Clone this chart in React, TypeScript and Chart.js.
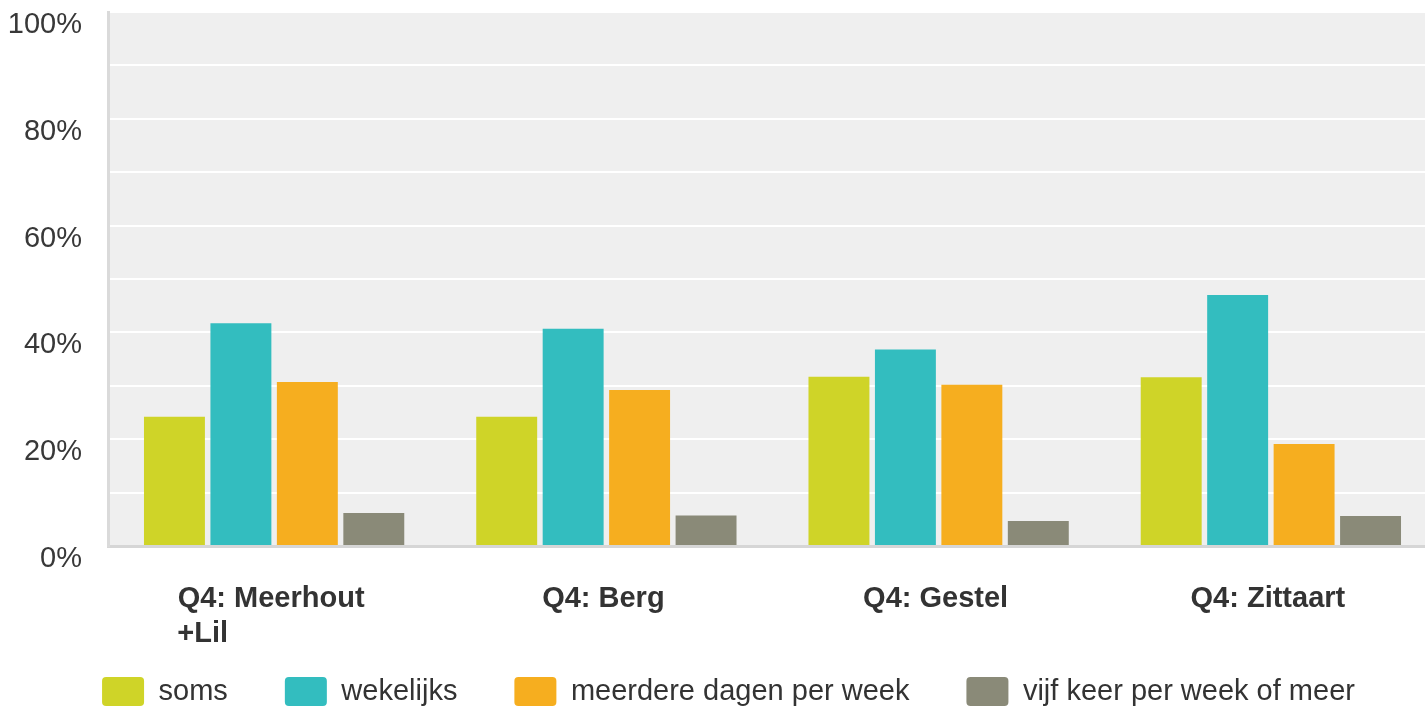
import React, { useEffect, useRef } from "react";
import { Chart, registerables } from "chart.js";

Chart.register(...registerables);

const categories: (string | string[])[] = [
  ["Q4: Meerhout", "+Lil" + "\u00A0".repeat(17)],
  "Q4: Berg",
  "Q4: Gestel",
  "Q4: Zittaart",
];
const seriesNames = ["soms", "wekelijks", "meerdere dagen per week", "vijf keer per week of meer"];
const soms = [24.2, 24.2, 31.7, 31.6];
const wekelijks = [41.7, 40.7, 36.8, 47.0];
const meerdereDagen = [30.7, 29.2, 30.2, 19.1];
const vijfKeer = [6.2, 5.7, 4.7, 5.6];
const colors = ["#cfd428", "#33bdbf", "#f6ae1f", "#8a8a78"];

const W = 1437;
const H = 706;
const FONT = "'Liberation Sans', Arial, sans-serif";

const bgPlugin = {
  id: "plotBg",
  afterLayout(chart: any) {
    const lg = chart.legend;
    if (lg) {
      lg.left += 10;
      lg.right += 10;
      lg.top += 10;
      lg.bottom += 10;
    }
    const xs = chart.scales && chart.scales.x;
    if (xs) {
      xs._computeLabelArea = () => undefined;
    }
  },
  beforeDraw(chart: any) {
    const { ctx, chartArea } = chart;
    if (!chartArea) return;
    ctx.save();
    ctx.fillStyle = "#efefef";
    ctx.fillRect(chartArea.left, chartArea.top, chartArea.right - chartArea.left, chartArea.bottom - chartArea.top);
    ctx.restore();
  },
};

export default function App() {
  const ref = useRef<HTMLCanvasElement | null>(null);
  useEffect(() => {
    document.body.style.margin = "0";
    const canvas = ref.current;
    if (!canvas) return;
    const values = [soms, wekelijks, meerdereDagen, vijfKeer];
    const chart = new Chart(canvas, {
      type: "bar",
      data: {
        labels: categories,
        datasets: seriesNames.map((name, i) => ({
          label: name,
          data: values[i],
          backgroundColor: colors[i],
          borderWidth: 0,
          categoryPercentage: 0.8,
          barPercentage: 0.917,
        })),
      },
      options: {
        responsive: false,
        animation: false,
        devicePixelRatio: 1,
        layout: { padding: { top: 12, left: 0, right: 0, bottom: 0 } },
        plugins: {
          tooltip: { enabled: false },
          legend: {
            position: "bottom",
            labels: {
              boxWidth: 42,
              boxHeight: 29,
              padding: 57,
              color: "#333333",
              font: { family: FONT, size: 29 },
              useBorderRadius: true,
              borderRadius: 4,
            },
          },
        },
        scales: {
          x: {
            grid: { display: false, drawTicks: false },
            border: { display: true, color: "#d6d6d6", width: 3 },
            ticks: {
              color: "#333333",
              padding: 36,
              labelOffset: -3,
              maxRotation: 0,
              autoSkip: false,
              font: { family: FONT, size: 29, weight: "bold" },
            },
            afterFit: (scale: any) => {
              scale.height = 64;
            },
          },
          y: {
            min: 0,
            max: 100,
            grid: {
              color: "#ffffff",
              lineWidth: 2,
              drawTicks: true,
              tickLength: 26,
              tickColor: "rgba(0,0,0,0)",
            },
            border: { display: true, color: "#dadada", width: 3 },
            ticks: {
              stepSize: 10,
              padding: 0,
              labelOffset: 13,
              color: "#383838",
              autoSkip: false,
              font: { family: FONT, size: 29, lineHeight: 0.8 },
              callback: (v: any) => (Number(v) % 20 === 0 ? v + "%" : ""),
            },
            afterFit: (scale: any) => {
              scale.width = 108;
            },
          },
        },
      },
      plugins: [bgPlugin],
    });
    return () => chart.destroy();
  }, []);
  return (
    <div style={{ width: 1425, height: H, overflow: "hidden", position: "relative" }}>
      <canvas ref={ref} width={W} height={H} style={{ display: "block" }} />
    </div>
  );
}
